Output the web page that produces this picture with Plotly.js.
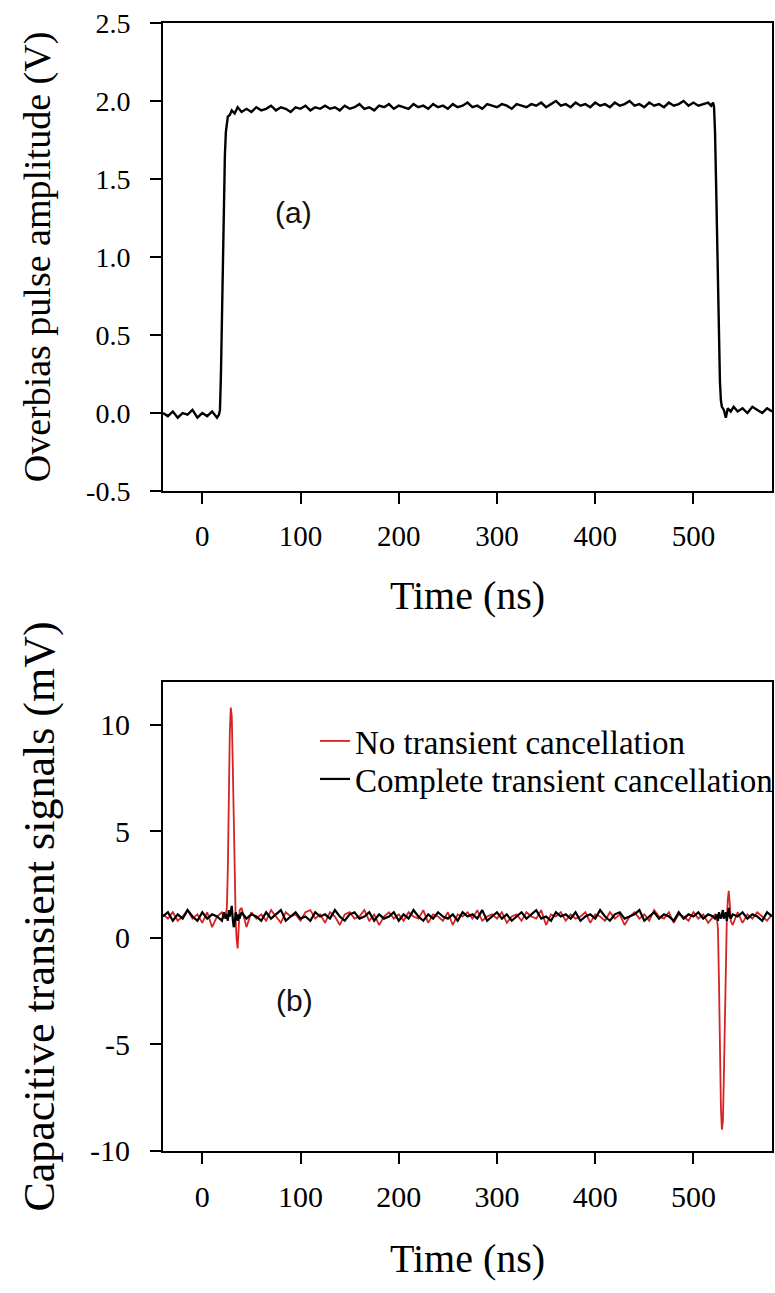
<!DOCTYPE html>
<html><head><meta charset="utf-8">
<script src="https://cdn.plot.ly/plotly-3.0.1.min.js"></script>
<style>html,body{margin:0;padding:0;background:#fff}</style>
</head><body>
<div id="chart" style="width:775px;height:1293px"></div>
<script>
// ---------- Panel (a): overbias pulse ----------
const timeA = [-40,-35,-30,-25,-20,-15,-10,-5,0,5,10,15,
  17,18,19,20,21,22,23,24,25,26,28,30,33,36,40,
  45,50,55,60,65,70,75,80,85,90,95,100,105,110,115,120,125,130,135,140,145,150,155,160,165,170,175,180,185,190,195,200,205,210,215,220,225,230,235,240,245,250,255,260,265,270,275,280,285,290,295,300,305,310,315,320,325,330,335,340,345,350,355,360,365,370,375,380,385,390,395,400,405,410,415,420,425,430,435,440,445,450,455,460,465,470,475,480,485,490,495,500,505,510,515,
  518,520,521,522,523,524,525,526,527,528,529,531,533,535,538,541,
  545,550,555,560,565,570,575,580];
const overbiasV = [0.00,-0.02,0.01,-0.03,0.00,-0.01,0.02,-0.03,0.00,-0.02,0.01,-0.03,
  -0.01,0.02,0.25,0.65,1.05,1.40,1.65,1.80,1.87,1.90,1.91,1.94,1.92,1.96,1.93,
  1.95,1.93,1.96,1.94,1.95,1.97,1.94,1.96,1.95,1.93,
  1.96,1.95,1.97,1.94,1.96,1.95,1.97,1.95,1.96,1.94,
  1.97,1.95,1.96,1.98,1.95,1.96,1.94,1.97,1.96,1.98,
  1.95,1.97,1.96,1.95,1.98,1.96,1.97,1.95,1.98,1.96,
  1.97,1.95,1.98,1.96,1.97,1.99,1.96,1.97,1.95,1.98,
  1.97,1.96,1.98,1.97,1.95,1.98,1.97,1.96,1.98,1.97,
  1.99,1.96,1.98,2.00,1.97,1.98,1.96,1.99,1.97,1.98,
  1.96,1.99,1.97,1.98,1.96,1.99,1.97,1.98,2.00,1.97,
  1.98,1.96,1.99,1.97,1.98,1.96,1.99,1.97,1.98,2.00,
  1.97,1.99,1.97,1.98,1.99,
  1.97,1.99,1.96,1.80,1.50,1.15,0.80,0.45,0.20,0.08,0.04,0.02,-0.03,0.03,0.01,0.04,
  0.01,0.03,0.00,0.04,0.02,0.00,0.03,0.01];

// ---------- Panel (b): capacitive transients ----------
const timeB = [-40,-35,-30,-25,-20,-15,-10,-5,0,5,10,15,20,
  22,24,25,26,27,28,29,30,31,32,33,34,35,36,37,38,40,
  45,50,55,60,65,70,75,80,85,90,95,100,105,110,115,120,125,130,135,140,145,150,155,160,165,170,175,180,185,190,195,200,205,210,215,220,225,230,235,240,245,250,255,260,265,270,275,280,285,290,295,300,305,310,315,320,325,330,335,340,345,350,355,360,365,370,375,380,385,390,395,400,405,410,415,420,425,430,435,440,445,450,455,460,465,470,475,480,485,490,495,500,505,510,515,520,
  522,524,525,526,527,528,529,530,531,532,533,534,535,536,537,538,540,
  545,550,555,560,565,570,575,580];
const noCancellation = [1.1,0.9,1.2,0.8,1.0,1.3,0.9,1.1,0.7,1.2,0.5,1.0,1.2,
  0.9,1.1,1.4,3.2,6.8,9.6,10.8,10.4,8.2,5.0,2.2,0.8,-0.1,-0.5,0.4,1.3,1.4,
  0.5,1.2,0.9,1.1,0.8,1.3,1.0,0.7,1.2,1.0,
  1.1,0.8,1.2,1.3,0.9,1.1,0.7,1.2,1.0,0.6,
  1.1,1.2,0.9,1.0,1.3,0.8,1.1,0.6,1.0,1.2,
  0.9,1.1,0.8,1.2,1.0,0.9,1.3,0.7,1.1,1.0,
  0.8,1.2,0.6,1.1,1.0,1.2,0.9,1.3,0.8,1.0,
  1.1,0.9,1.2,0.7,1.0,1.1,0.8,1.2,1.0,0.9,
  1.3,0.6,1.1,1.0,1.2,0.8,1.1,0.9,1.0,1.2,
  0.7,1.1,1.0,0.8,1.2,0.9,1.1,0.6,1.0,1.2,
  0.9,1.1,0.8,1.3,1.0,0.9,1.2,0.7,1.1,1.0,
  0.8,1.2,0.9,1.1,0.7,1.0,
  1.1,0.9,0.4,-2.0,-5.4,-8.0,-9.0,-8.6,-6.5,-3.5,-0.8,0.9,1.8,2.2,1.6,0.8,0.6,
  1.2,0.7,1.1,0.9,1.2,1.0,0.8,1.1];
const completeCancellation = [1.0,1.2,0.8,1.1,0.9,1.3,1.0,0.8,1.2,0.9,1.1,1.0,0.8,
  1.2,0.9,1.1,0.8,1.3,1.0,1.4,1.5,0.9,0.5,0.7,1.2,1.0,0.8,1.1,0.9,1.2,
  0.9,1.1,1.0,0.8,1.2,0.9,1.1,1.3,0.8,1.0,
  1.2,0.9,1.0,0.8,1.2,1.0,1.1,0.9,1.3,1.0,
  0.8,1.1,1.2,0.9,1.0,1.2,0.8,1.1,0.9,1.0,
  1.2,0.8,1.1,0.9,1.3,1.0,0.8,1.1,0.9,1.2,
  1.0,0.9,1.1,0.8,1.2,1.0,1.1,0.9,1.3,0.8,
  1.0,1.2,0.9,1.1,0.8,1.0,1.2,0.9,1.1,1.3,
  0.9,1.0,0.8,1.2,1.0,1.1,0.9,1.2,0.8,1.0,
  1.1,0.9,1.3,1.0,0.8,1.1,1.2,0.9,1.0,1.1,
  1.3,0.8,1.0,1.2,0.9,1.1,1.0,0.8,1.2,0.9,
  1.1,1.0,1.2,0.9,1.1,1.0,
  0.9,1.1,0.8,1.2,1.0,0.9,1.1,1.3,0.9,1.0,1.2,0.8,1.1,1.4,1.0,0.9,1.1,
  1.0,1.2,0.9,1.1,1.0,0.8,1.2,1.0];

// ---------- Tick labels ----------
const timeTicks = [0,100,200,300,400,500];
const timeTickText = ['0','100','200','300','400','500'];
const voltTicks = [-0.5,0,0.5,1,1.5,2,2.5];
const voltTickText = ['-0.5','0.0','0.5','1.0','1.5','2.0','2.5'];
const mvTicks = [-10,-5,0,5,10];
const mvTickText = ['-10','-5','0','5','10'];

const serif = 'Liberation Serif';

function axisBase(fontSize) {
  return {
    showline: true, linecolor: '#000', linewidth: 2, mirror: true,
    ticks: 'outside', ticklen: 11, tickwidth: 2, tickcolor: '#000',
    showgrid: false, zeroline: false, automargin: false,
    tickfont: {family: serif, size: fontSize, color: '#000'}
  };
}

const traces = [
  {x: timeA, y: overbiasV, xaxis: 'x', yaxis: 'y', type: 'scatter', mode: 'lines',
   line: {color: '#000', width: 2.4}, showlegend: false, name: 'Overbias pulse'},
  {x: timeB, y: noCancellation, xaxis: 'x2', yaxis: 'y2', type: 'scatter', mode: 'lines',
   line: {color: '#d42424', width: 1.8}, name: 'No transient cancellation', legend: 'legend'},
  {x: timeB, y: completeCancellation, xaxis: 'x2', yaxis: 'y2', type: 'scatter', mode: 'lines',
   line: {color: '#000', width: 2.2}, name: 'Complete transient cancellation', legend: 'legend2'}
];

const legendBase = {
  x: 0.2496, xanchor: 'left', yanchor: 'middle',
  bgcolor: 'rgba(0,0,0,0)', borderwidth: 0,
  font: {family: serif, size: 33, color: '#000'}
};

const layout = {
  width: 775, height: 1293,
  margin: {l: 163, r: 3, t: 23, b: 142, autoexpand: false},
  paper_bgcolor: '#fff', plot_bgcolor: '#fff',
  font: {family: serif, color: '#000'},
  showlegend: true,
  xaxis: Object.assign(axisBase(29), {
    domain: [0, 1], anchor: 'y', range: [-40, 580],
    tickmode: 'array', tickvals: timeTicks, ticktext: timeTickText, ticklabelstandoff: 7,
    title: {text: 'Time (ns)', font: {family: serif, size: 40, color: '#000'}, standoff: 30}
  }),
  yaxis: Object.assign(axisBase(28), {
    domain: [0.5851, 1], anchor: 'x', range: [-0.5, 2.5],
    tickmode: 'array', tickvals: voltTicks, ticktext: voltTickText, ticklabelstandoff: 14,
    title: {text: 'Overbias pulse amplitude (V)', font: {family: serif, size: 38, color: '#000'}, standoff: 24}
  }),
  xaxis2: Object.assign(axisBase(30), {
    domain: [0, 1], anchor: 'y2', range: [-40, 580],
    tickmode: 'array', tickvals: timeTicks, ticktext: timeTickText, ticklabelstandoff: 7,
    title: {text: 'Time (ns)', font: {family: serif, size: 40, color: '#000'}, standoff: 32}
  }),
  yaxis2: Object.assign(axisBase(30), {
    domain: [0, 0.4158], anchor: 'x2', range: [-10, 12],
    tickmode: 'array', tickvals: mvTicks, ticktext: mvTickText, ticklabelstandoff: 14,
    title: {text: 'Capacitive transient signals (mV)', font: {family: serif, size: 44, color: '#000'}, standoff: 22}
  }),
  legend: Object.assign({}, legendBase, {y: 0.3635}),
  legend2: Object.assign({}, legendBase, {y: 0.3298}),
  annotations: [
    {text: '(a)', xref: 'x', yref: 'y', x: 93, y: 1.285, showarrow: false,
     font: {family: 'Liberation Sans', size: 30, color: '#111'}},
    {text: '(b)', xref: 'x2', yref: 'y2', x: 94, y: -2.95, showarrow: false,
     font: {family: 'Liberation Sans', size: 30, color: '#111'}}
  ]
};

Plotly.newPlot('chart', traces, layout, {staticPlot: true, displayModeBar: false});
</script>
</body></html>
